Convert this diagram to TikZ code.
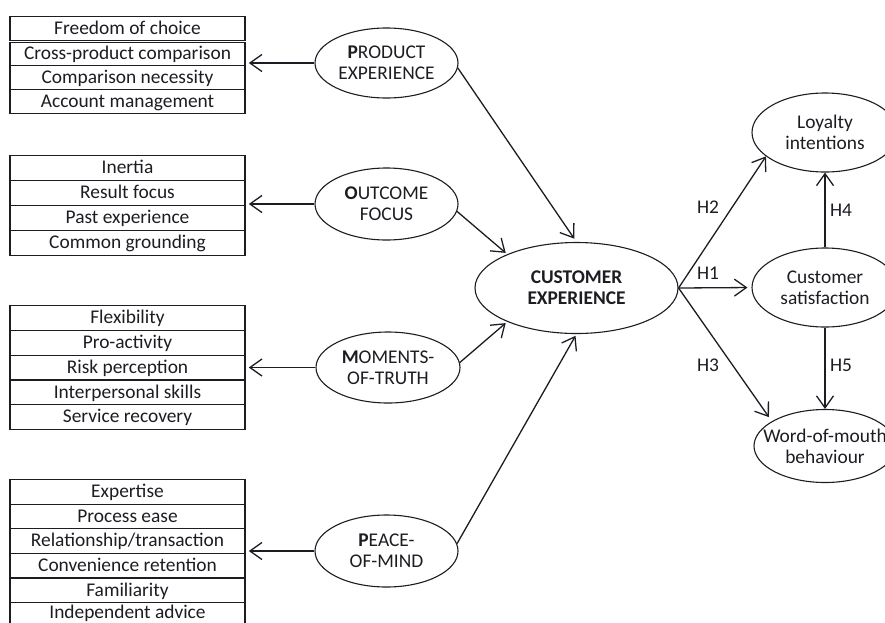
\documentclass[tikz,border=0pt]{standalone}
\usepackage{fontspec}
\setmainfont{Carlito}
\usetikzlibrary{arrows.meta,fit,shapes.geometric}
\definecolor{ink}{RGB}{28,28,34}
\begin{document}
\begin{tikzpicture}[x=1pt,y=-1pt,
  every node/.style={font=\fontsize{19.4}{21}\selectfont, text=ink},
  row/.style={draw=ink, line width=1.25pt, minimum width=235pt, minimum height=#1,
    inner sep=0pt, anchor=north, text height=14pt, text depth=2.5pt},
  row/.default=24.6pt,
  ell/.style={ellipse, draw=ink, line width=1.1pt, inner sep=0pt},
  lbl/.style={align=center, inner sep=0pt},
  arr/.style={draw=ink, line width=1.3pt, -{Straight Barb[length=12pt,width=17pt,line width=1.3pt]}},
  grp/.style={inner sep=0pt}
]
\useasboundingbox (0,0) rectangle (885,622);
\clip (0,0) rectangle (885,622);

% ---- product experience items
\node[row=23.5pt] (p1) at (127.5,16)   {Freedom of choice};
\node[row=23pt]   (p2) at (127.5,41.5) {Cross-product comparison};
\node[row=24.5pt] (p3) at (127.5,64.5) {Comparison necessity};
\node[row=24pt]   (p4) at (127.5,89)   {Account management};
\node[grp, fit=(p1)(p4)] (pbox) {};

% ---- outcome focus items
\node[row=25pt] (o1) at (127.5,155) {Inertia};
\node[row=25pt] (o2) at (127.5,180) {Result focus};
\node[row=25pt] (o3) at (127.5,205) {Past experience};
\node[row=25pt] (o4) at (127.5,230) {Common grounding};
\node[grp, fit=(o1)(o4)] (obox) {};

% ---- moments-of-truth items
\node[row=24.8pt] (m1) at (127.5,305)   {Flexibility};
\node[row=24.8pt] (m2) at (127.5,329.8) {Pro-activity};
\node[row=24.8pt] (m3) at (127.5,354.6) {Risk perception};
\node[row=24.8pt] (m4) at (127.5,379.4) {Interpersonal skills};
\node[row=24.8pt] (m5) at (127.5,404.2) {Service recovery};
\node[grp, fit=(m1)(m5)] (mbox) {};

% ---- peace-of-mind items (last row runs past the lower edge)
\node[row=24.6pt] (k1) at (127.5,479)   {Expertise};
\node[row=24.6pt] (k2) at (127.5,503.6) {Process ease};
\node[row=24.6pt] (k3) at (127.5,528.2) {Relationship/transaction};
\node[row=24.6pt] (k4) at (127.5,552.8) {Convenience retention};
\node[row=24.6pt] (k5) at (127.5,577.4) {Familiarity};
\node[row=21pt]   (k6) at (127.5,602)   {Independent advice};
\draw[draw=ink, line width=1.25pt] (k6.north west) -- (k6.south west) -- ++(0,8)
  (k6.north east) -- (k6.south east) -- ++(0,8);
\node[grp, fit=(k1)(k6)] (kbox) {};

% ---- dimension ellipses
\node[ell, minimum width=143pt, minimum height=70pt] (pe) at (386.5,63) {};
\node[lbl] (pet) at (pe) {\textbf{P}RODUCT\\EXPERIENCE};
\node[ell, minimum width=143pt, minimum height=72pt] (oe) at (386.5,204) {};
\node[lbl] (oet) at (oe) {\textbf{O}UTCOME\\FOCUS};
\node[ell, minimum width=144pt, minimum height=71pt] (me) at (388,367.5) {};
\node[lbl] (met) at (me) {\textbf{M}OMENTS-\\OF-TRUTH};
\node[ell, minimum width=143pt, minimum height=72pt] (ke) at (386.5,551) {};
\node[lbl] (ket) at (ke) {\textbf{P}EACE-\\OF-MIND};

% ---- central construct and outcomes
\node[ell, minimum width=203pt, minimum height=91pt] (ce) at (576.5,288) {};
\node[lbl, font=\bfseries\fontsize{19.4}{21}\selectfont] (cet) at (ce) {CUSTOMER\\EXPERIENCE};
\node[ell, minimum width=146pt, minimum height=79pt] (li) at (825,132.5) {};
\node[lbl] (lit) at (li) {Loyalty\\intentions};
\node[ell, minimum width=146pt, minimum height=79pt] (cs) at (825,287.5) {};
\node[lbl] (cst) at (cs) {Customer\\satisfaction};
\node[ell, minimum width=142pt, minimum height=73pt] (wm) at (825,446) {};
\node[lbl] (wmt) at (wm) {Word-of-mouth\\behaviour};

% ---- dimensions to their items
\draw[arr, shorten >=3pt] (pe.west) -- (pe.west -| pbox.east);
\draw[arr, shorten >=3pt] (oe.west) -- (oe.west -| obox.east);
\draw[arr, shorten >=3pt] (me.west) -- (me.west -| mbox.east);
\draw[arr, shorten >=3pt] (ke.west) -- (ke.west -| kbox.east);

% ---- dimensions to customer experience
\draw[arr, shorten >=4pt] (pe.-4) -- (ce.north);
\draw[arr, shorten >=2pt] (oe.-6) -- (ce.154);
\draw[arr, shorten >=2pt] (me.4) -- (ce.206);
\draw[arr, shorten >=2pt] (ke.6) -- (ce.south);

% ---- hypotheses
\draw[arr] (ce.east) -- (li.202);
\draw[arr, shorten >=4pt] (ce.east) -- (cs.west);
\draw[arr, shorten >=5pt] (ce.east) -- (wm.155);
\draw[arr] (cs.north) -- (li.south);
\draw[arr] (cs.south) -- (wm.north);

\node[lbl] (h2) at (708,207) {H2};
\node[lbl] (h1) at (708,273) {H1};
\node[lbl] (h3) at (708,365) {H3};
\node[lbl] (h4) at (841,210) {H4};
\node[lbl] (h5) at (841,365) {H5};
\end{tikzpicture}
\end{document}
